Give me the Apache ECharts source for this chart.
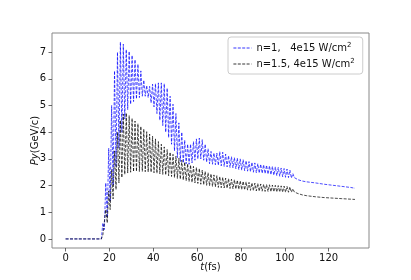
<!DOCTYPE html>
<html><head><meta charset="utf-8">
<script src="https://cdn.jsdelivr.net/npm/echarts@6/dist/echarts.min.js"></script>
<style>html,body{margin:0;padding:0;background:#fff}#c{width:411px;height:280px}</style>
</head><body><div id="c"></div>
<script>
// tick labels
const xTicks = [0, 20, 40, 60, 80, 100, 120];
const yTicks = [0, 1, 2, 3, 4, 5, 6, 7];
const seriesNames = ['n=1,   4e15 W/cm', 'n=1.5, 4e15 W/cm'];

// time (fs): flat start, oscillating part, smooth tail
const tHead = [0];
const tOsc = [
  16.33,17,17.67,18.33,19,19.67,20.33,21,21.67,22.33,
  23,23.67,24.33,25,25.67,26.33,27,27.67,28.33,29,
  29.67,30.33,31,31.67,32.33,33,33.67,34.33,35,35.67,
  36.33,37,37.67,38.33,39,39.67,40.33,41,41.67,42.33,
  43,43.67,44.33,45,45.67,46.33,47,47.67,48.33,49,
  49.67,50.33,51,51.67,52.33,53,53.67,54.33,55,55.67,
  56.33,57,57.67,58.33,59,59.67,60.33,61,61.67,62.33,
  63,63.67,64.33,65,65.67,66.33,67,67.67,68.33,69,
  69.67,70.33,71,71.67,72.33,73,73.67,74.33,75,75.67,
  76.33,77,77.67,78.33,79,79.67,80.33,81,81.67,82.33,
  83,83.67,84.33,85,85.67,86.33,87,87.67,88.33,89,
  89.67,90.33,91,91.67,92.33,93,93.67,94.33,95,95.67,
  96.33,97,97.67,98.33,99,99.67,100.33,101,101.67,102.33,
  103,103.67,104.33
];
const tTail = [105,106,108,110,114,118,122,126,130,132];

// Py (GeV/c), n=1 (blue)
const blueHead = [0];
const blueOsc = [
  0,0.6,0.35,2.1,0.8,3.4,1.4,5.0,2.0,6.3,
  2.7,7.0,3.4,7.38,4.0,7.3,4.5,7.1,4.85,7.03,
  5.05,6.88,5.15,6.72,5.25,6.55,5.3,6.3,5.35,5.95,
  5.35,5.75,5.3,5.72,5.1,5.8,4.95,5.82,4.7,5.85,
  4.45,5.85,4.25,5.82,4.0,5.65,3.8,5.35,3.55,5.05,
  3.3,4.7,3.05,4.35,2.9,4.0,2.85,3.7,2.82,3.55,
  2.8,3.55,2.85,3.65,2.95,3.75,3.0,3.78,3.0,3.72,
  2.95,3.55,2.88,3.38,2.82,3.28,2.8,3.22,2.78,3.22,
  2.76,3.27,2.74,3.25,2.72,3.18,2.7,3.12,2.68,3.08,
  2.66,3.05,2.63,3.03,2.6,3.0,2.58,2.97,2.56,2.93,
  2.54,2.9,2.52,2.87,2.5,2.85,2.48,2.82,2.47,2.8,
  2.46,2.78,2.45,2.76,2.43,2.74,2.41,2.72,2.39,2.7,
  2.37,2.68,2.35,2.66,2.33,2.64,2.31,2.62,2.3,2.58,
  2.28,2.45,2.3
];
const blueTail = [2.27,2.22,2.17,2.14,2.1,2.05,2.01,1.97,1.93,1.9];

// Py (GeV/c), n=1.5 (black)
const blackHead = [0];
const blackOsc = [
  0,0.15,0.1,1.1,0.6,1.8,1.1,2.6,1.5,3.3,
  1.85,4.0,2.1,4.45,2.3,4.68,2.42,4.72,2.47,4.62,
  2.5,4.52,2.52,4.42,2.53,4.32,2.53,4.22,2.53,4.12,
  2.52,4.02,2.51,3.93,2.5,3.85,2.48,3.75,2.46,3.65,
  2.44,3.55,2.42,3.45,2.4,3.35,2.37,3.25,2.34,3.17,
  2.3,3.1,2.27,3.02,2.24,2.95,2.21,2.88,2.18,2.82,
  2.15,2.77,2.12,2.72,2.1,2.68,2.08,2.64,2.05,2.58,
  2.03,2.53,2.01,2.48,1.99,2.44,1.97,2.4,1.95,2.37,
  1.93,2.34,1.92,2.31,1.91,2.28,1.9,2.26,1.89,2.24,
  1.88,2.22,1.87,2.2,1.86,2.18,1.85,2.16,1.84,2.14,
  1.83,2.12,1.82,2.1,1.81,2.09,1.8,2.08,1.79,2.06,
  1.79,2.05,1.78,2.04,1.78,2.03,1.77,2.02,1.77,2.01,
  1.76,2.0,1.76,1.99,1.75,1.98,1.75,1.97,1.75,1.95,
  1.75,1.88,1.76
];
const blackTail = [1.74,1.7,1.65,1.62,1.58,1.55,1.53,1.51,1.49,1.48];

const tAll = tHead.concat(tOsc, tTail);
const blueAll = blueHead.concat(blueOsc, blueTail);
const blackAll = blackHead.concat(blackOsc, blackTail);
const pairs = (xs, ys) => xs.map((x, i) => [x, ys[i]]);

const FONT = 'DejaVu Sans';
const chart = echarts.init(document.getElementById('c'), null, {renderer: 'canvas'});
chart.setOption({
  animation: false,
  backgroundColor: '#fff',
  grid: {left: 52, right: 42, top: 33, bottom: 32, show: true, borderColor: '#888', borderWidth: 1, backgroundColor: 'transparent'},
  xAxis: {
    type: 'value', min: -6.2, max: 138.4,
    splitLine: {show: false},
    axisLine: {show: false, onZero: false},
    axisTick: {show: true, length: 3.5, customValues: xTicks, lineStyle: {color: '#444', width: 0.8}},
    axisLabel: {customValues: xTicks, margin: 5, fontFamily: FONT, fontSize: 10, color: '#111'},
    name: '{i|t}(fs)', nameLocation: 'middle', nameGap: 14, nameMoveOverlap: false,
    nameTextStyle: {fontFamily: FONT, fontSize: 10, color: '#111', verticalAlign: 'top', rich: {i: {fontStyle: 'italic', fontFamily: FONT, fontSize: 10, color: '#111'}}}
  },
  yAxis: {
    type: 'value', min: -0.34, max: 7.72,
    splitLine: {show: false},
    axisLine: {show: false, onZero: false},
    axisTick: {show: true, length: 3.5, customValues: yTicks, lineStyle: {color: '#444', width: 0.8}},
    axisLabel: {customValues: yTicks, margin: 6, fontFamily: FONT, fontSize: 10, color: '#111'},
    name: '{i|Py}(GeV/c)', nameLocation: 'middle', nameGap: 12, nameRotate: 90, nameMoveOverlap: false,
    nameTextStyle: {fontFamily: FONT, fontSize: 10, color: '#111', verticalAlign: 'bottom', rich: {i: {fontStyle: 'italic', fontFamily: FONT, fontSize: 10, color: '#111'}}}
  },
  legend: {
    orient: 'vertical', left: 228, top: 37,
    padding: [5, 8, 5, 5], itemGap: 5, itemWidth: 18, itemHeight: 8,
    borderColor: '#ccc', borderWidth: 1, borderRadius: 3, backgroundColor: '#fff',
    itemStyle: {color: 'transparent', borderWidth: 0, opacity: 0},
    lineStyle: {width: 0.8},
    data: seriesNames,
    formatter: n => '{a|' + n + '}{s|2}',
    textStyle: {fontFamily: FONT, fontSize: 10, color: '#111', rich: {
      a: {fontFamily: FONT, fontSize: 10, color: '#111', lineHeight: 12},
      s: {fontFamily: FONT, fontSize: 7, color: '#111', lineHeight: 8, verticalAlign: 'top'}
    }}
  },
  series: [
    {name: seriesNames[0], type: 'line', data: pairs(tAll, blueAll), symbol: 'none', showSymbol: false,
     lineStyle: {color: '#0000ff', width: 0.7, type: [3, 1.4]}, itemStyle: {color: '#0000ff'}, z: 2},
    {name: seriesNames[1], type: 'line', data: pairs(tAll, blackAll), symbol: 'none', showSymbol: false,
     lineStyle: {color: '#000000', width: 0.7, type: [3, 1.4]}, itemStyle: {color: '#000000'}, z: 3}
  ]
});
</script></body></html>
